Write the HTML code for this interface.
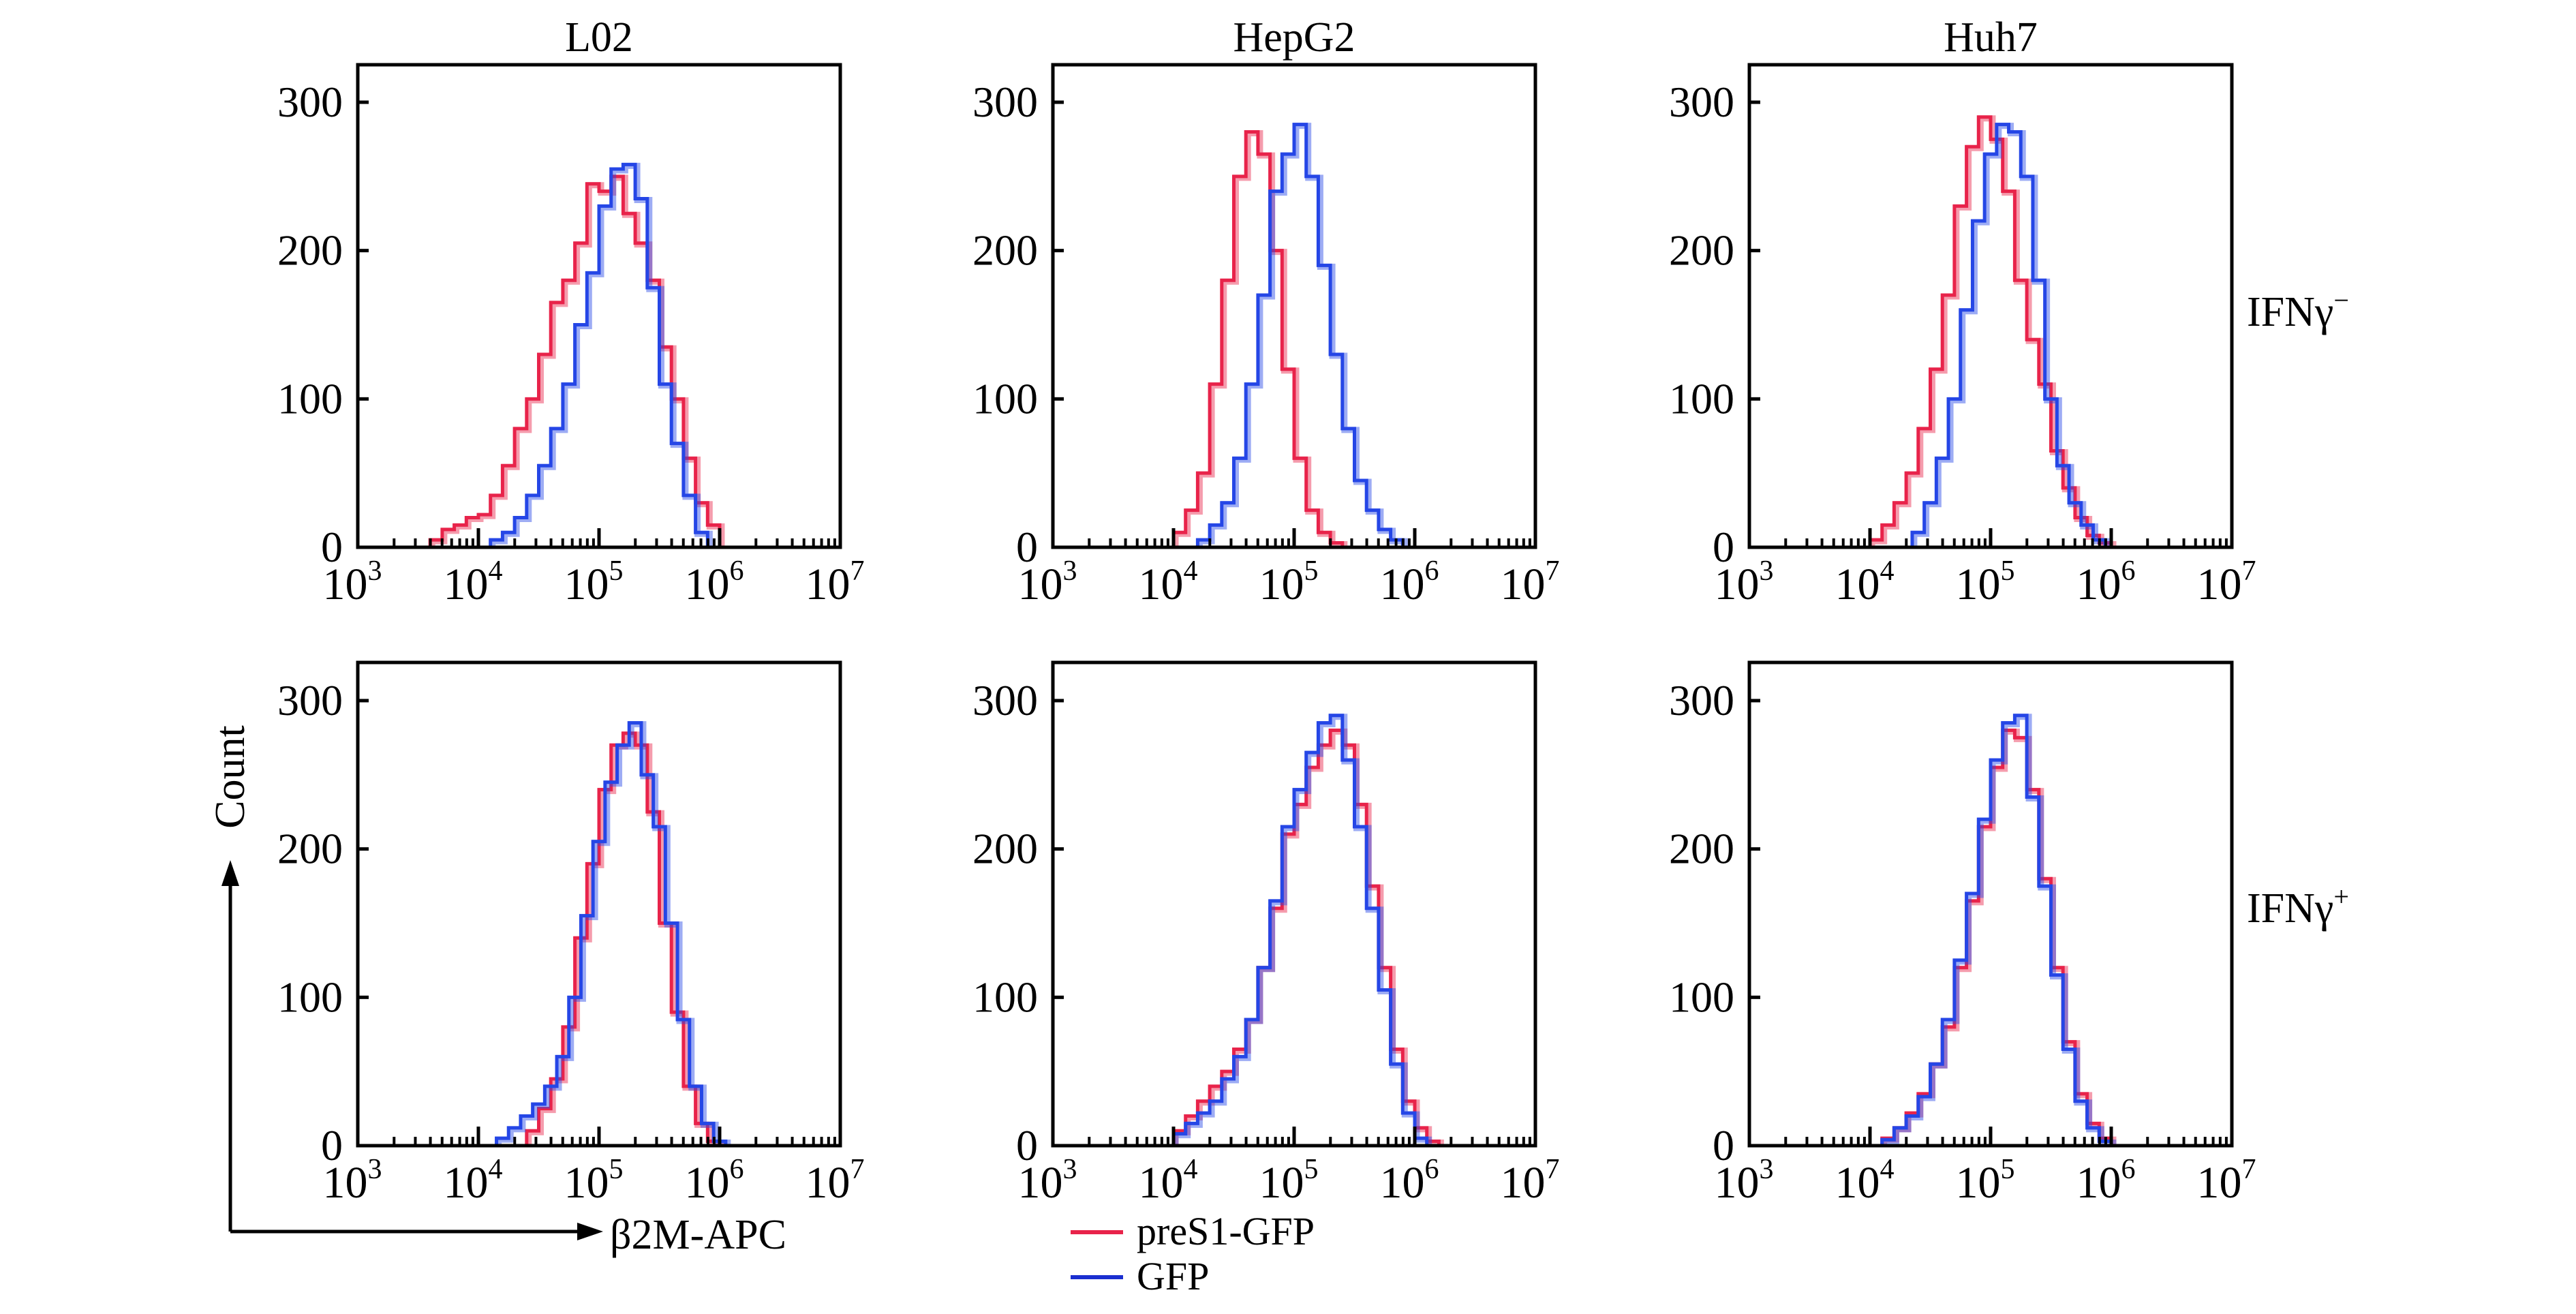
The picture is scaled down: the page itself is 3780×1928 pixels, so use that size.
<!DOCTYPE html>
<html><head><meta charset="utf-8"><style>
html,body{margin:0;padding:0;background:#fff}
svg{display:block}
text{font-family:"Liberation Serif",serif;fill:#000}
</style></head><body>
<svg id="chart" width="3780" height="1928" viewBox="0 0 3780 1928" xmlns="http://www.w3.org/2000/svg">
<g id="panels"></g>
<text x="3297" y="478" font-size="62">IFNγ<tspan dy="-24" font-size="40">−</tspan></text>
<text x="3297" y="1353" font-size="62">IFNγ<tspan dy="-24" font-size="40">+</tspan></text>
<g>
<line x1="338" y1="1285" x2="338" y2="1807" stroke="#000" stroke-width="5"/>
<polygon points="338,1262 325,1300 351,1300" fill="#000"/>
<line x1="338" y1="1807" x2="860" y2="1807" stroke="#000" stroke-width="5"/>
<polygon points="885,1807 847,1794 847,1820" fill="#000"/>
<text transform="translate(358,1140) rotate(-90)" font-size="62" text-anchor="middle">Count</text>
<text x="895" y="1832" font-size="62">β2M-APC</text>
</g>
<g>
<line x1="1571" y1="1808" x2="1648" y2="1808" stroke="#e8234a" stroke-width="6"/>
<text x="1668" y="1826" font-size="58">preS1-GFP</text>
<line x1="1571" y1="1874" x2="1648" y2="1874" stroke="#1a2fd0" stroke-width="6"/>
<text x="1668" y="1892" font-size="58">GFP</text>
</g>
</svg>
<script>
const cellTitles = ["L02","HepG2","Huh7"];
const yTicks = [0,100,200,300];
const xDecades = [3,4,5,6,7];
const binStep = 0.1;
// each series: start log10 value, counts per 0.1-decade bin
const redStart = [[3.6,4.0,4.0],[4.4,4.0,4.1]];
const redCounts = [
 [[5,12,15,20,22,35,55,80,100,130,165,180,205,245,240,250,225,205,180,135,100,60,30,15],
  [10,25,50,110,180,250,280,265,200,120,60,25,10,3],
  [5,15,30,50,80,120,170,230,270,290,275,240,180,140,110,65,40,20,8,3]],
 [[10,25,45,80,140,190,240,270,278,270,225,150,90,40,15,3],
  [10,20,30,40,50,65,85,120,160,210,230,255,270,280,270,230,175,120,65,30,12,3],
  [5,12,22,35,55,80,120,165,215,255,280,275,240,180,120,70,35,15,5]]
];
const blueStart = [[4.1,4.2,4.35],[4.15,4.0,4.1]];
const blueCounts = [
 [[5,10,20,35,55,80,110,150,185,230,255,258,235,175,110,70,35,10],
  [5,15,30,60,110,170,240,265,285,250,190,130,80,45,25,12,5],
  [10,30,60,100,160,220,265,285,280,250,180,100,55,30,15,5]],
 [[5,12,20,28,40,60,100,155,205,245,270,285,250,215,150,85,40,15,3],
  [8,15,22,30,45,60,85,120,165,215,240,265,285,290,260,215,160,105,55,22,5],
  [4,12,20,33,55,85,125,170,220,260,285,290,235,175,115,65,30,12,3]]
];
const NS="http://www.w3.org/2000/svg";
const panelLeft=[525,1545,2567], panelW=708;
const rowTop=[95,972], rowZero=[803,1681], pxPer100=653/3;
const root=document.getElementById('panels');
function mk(tag,attrs,parent){const e=document.createElementNS(NS,tag);for(const k in attrs)e.setAttribute(k,attrs[k]);parent.appendChild(e);return e;}
for(let r=0;r<2;r++)for(let c=0;c<3;c++){
  const L=panelLeft[c], T=rowTop[r], Z=rowZero[r];
  const xs=v=>L+(v-3)/4*panelW;
  const ys=v=>Z-v*pxPer100/100;
  const g=mk('g',{},root);
  
  
  if(r===0){const t=mk('text',{x:L+panelW/2,y:75,'font-size':62,'text-anchor':'middle'},g);t.textContent=cellTitles[c];
    
    }
  const series=[[redStart[r][c],redCounts[r][c],'#e8234a','red'],[blueStart[r][c],blueCounts[r][c],'#2546e6','blue']];
  series.forEach(([s0,cnt,col,nm])=>{
    let d='M'+xs(s0)+','+ys(0);
    cnt.forEach((v,i)=>{const xa=xs(s0+i*binStep),xb=xs(s0+(i+1)*binStep);d+=' L'+xa+','+ys(v)+' L'+xb+','+ys(v);});
    d+=' L'+xs(s0+cnt.length*binStep)+','+ys(0);
    const halo=mk('path',{d:d,fill:'none',stroke:col,'stroke-opacity':0.45,'stroke-width':9,transform:'translate(3,2)'},g);
    
    
    const p=mk('path',{d:d,fill:'none',stroke:col,'stroke-width':5},g);
    
    
  });
  const f=mk('rect',{x:L,y:T,width:panelW,height:Z-T,fill:'none',stroke:'#000','stroke-width':5},g);
  
  
  yTicks.forEach(v=>{
    mk('line',{x1:L,x2:L+16,y1:ys(v),y2:ys(v),stroke:'#000','stroke-width':5},g);
    const t=mk('text',{x:L-22,y:ys(v)+21,'font-size':64,'text-anchor':'end'},g);t.textContent=v;
    
    
  });
  xDecades.forEach((dcd,i)=>{
    const x=xs(dcd);
    mk('line',{x1:x,x2:x,y1:Z,y2:Z-28,stroke:'#000','stroke-width':5},g);
    if(i<xDecades.length-1)for(let m=2;m<=9;m++){const xm=xs(dcd+Math.log10(m));mk('line',{x1:xm,x2:xm,y1:Z,y2:Z-13,stroke:'#000','stroke-width':4},g);}
    const t=mk('text',{x:x-8,y:Z+76,'font-size':66,'text-anchor':'middle'},g);
    t.textContent='10';
    const sp=mk('tspan',{dy:-28,'font-size':42},t);sp.textContent=dcd;
    
    
  });
}
</script>
</body></html>
